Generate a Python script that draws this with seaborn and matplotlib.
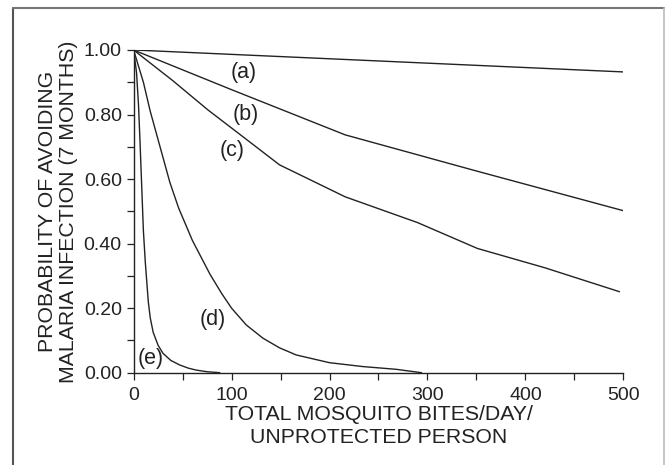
import pandas as pd
import numpy as np
import matplotlib.pyplot as plt
import matplotlib.lines as mlines
import seaborn as sns

# curve data (x = bites/day, y = probability)
a_x = [0, 500]
a_y = [1.0, 0.932]
b_x = [0, 100, 216, 350, 500]
b_y = [1.0, 0.877, 0.737, 0.625, 0.502]
c_x = [0, 40, 76, 110, 149, 216, 290, 351, 420, 496]
c_y = [1.0, 0.905, 0.814, 0.735, 0.644, 0.545, 0.465, 0.385, 0.325, 0.251]
d_x = [0, 5, 10, 17, 27, 37, 46, 60, 78, 90, 100, 115, 132, 149, 166, 200, 234, 268, 294]
d_y = [1.0, 0.95, 0.90, 0.81, 0.70, 0.59, 0.51, 0.41, 0.305, 0.245, 0.20, 0.148, 0.107, 0.077, 0.055, 0.031, 0.019, 0.0105, 0.0]
e_x = [0, 3, 5, 6.5, 8, 10, 12, 15, 17, 20, 25, 30, 38, 47, 56, 64, 75, 88]
e_y = [1.0, 0.93, 0.83, 0.72, 0.60, 0.44, 0.34, 0.22, 0.17, 0.125, 0.085, 0.06, 0.038, 0.024, 0.014, 0.008, 0.003, 0.0]
labels = ['(a)', '(b)', '(c)', '(d)', '(e)']
label_x = [112, 114, 101, 81, 17]
label_y = [0.93, 0.80, 0.69, 0.165, 0.045]

frames = []
for name, xs, ys in zip(labels, [a_x, b_x, c_x, d_x, e_x], [a_y, b_y, c_y, d_y, e_y]):
    frames.append(pd.DataFrame({'bites': xs, 'prob': ys, 'curve': name}))
data = pd.concat(frames, ignore_index=True)

sns.set_style('ticks')
plt.rcParams['font.family'] = ['Liberation Sans', 'DejaVu Sans']

fig = plt.figure(figsize=(6.65, 4.65), dpi=100)
ax = fig.add_axes([0.2009, 0.1985, 0.7365, 0.694])

sns.lineplot(data=data, x='bites', y='prob', units='curve', estimator=None,
             color='#222222', linewidth=1.0, sort=False, ax=ax, legend=False)

for t, lx, ly in zip(labels, label_x, label_y):
    ax.text(lx, ly, t, fontsize=15.5, ha='center', va='center', color='#222222')

ax.set_xlim(0, 500)
ax.set_ylim(0, 1.0)
ax.set_xticks([0, 100, 200, 300, 400, 500])
ax.set_xticks(np.arange(50, 500, 100), minor=True)
ax.set_yticks([0, 0.2, 0.4, 0.6, 0.8, 1.0])
ax.set_yticks(np.arange(0.1, 1.0, 0.2), minor=True)
ax.set_yticklabels(['0.00', '0.20', '0.40', '0.60', '0.80', '1.00'])
ax.tick_params(which='both', direction='out', length=5, width=0.9, colors='#222222',
               labelsize=14)
ax.tick_params(axis='x', pad=5)
sns.despine(ax=ax)
for s in ['left', 'bottom']:
    ax.spines[s].set_linewidth(1.0)
    ax.spines[s].set_color('#222222')

ax.set_xlabel('TOTAL MOSQUITO BITES/DAY/\nUNPROTECTED PERSON', fontsize=15.3,
              linespacing=1.25, color='#222222', labelpad=1)
ax.set_ylabel('PROBABILITY OF AVOIDING\nMALARIA INFECTION (7 MONTHS)', fontsize=15.3,
              linespacing=1.12, color='#222222', labelpad=4)

# outer frame of the figure panel
W, H = 665, 465
fig.add_artist(mlines.Line2D([13 / W, 13 / W], [0, 1 - 8 / H], color='#555555', linewidth=1.5))
fig.add_artist(mlines.Line2D([13 / W, 664 / W], [1 - 8 / H, 1 - 8 / H], color='#777777', linewidth=1.5))
fig.add_artist(mlines.Line2D([664 / W, 664 / W], [0, 1 - 8 / H], color='#bbbbbb', linewidth=1.2))

fig.savefig('out.png', dpi=100)
